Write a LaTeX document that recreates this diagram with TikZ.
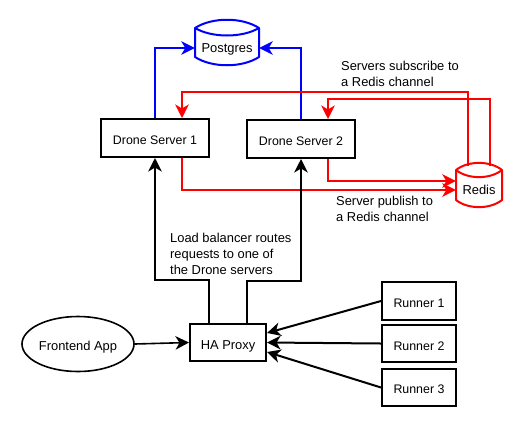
\documentclass[tikz,border=0pt]{standalone}
\usepackage{fontspec}
\setmainfont{Liberation Sans}
\usetikzlibrary{arrows.meta,shapes.geometric,calc}
\definecolor{rd}{RGB}{255,0,0}
\definecolor{bl}{RGB}{0,0,255}
\newcommand{\lowered}[2]{\raisebox{-#1}[0pt][0pt]{#2}}
\tikzset{
  txt/.style={font=\fontsize{12.9}{15.8}\selectfont,inner sep=0pt},
  boxn/.style={draw=black,line width=2pt,minimum width=#1,inner sep=0pt,font=\fontsize{12.4}{15}\selectfont},
  boxn/.default=74,
  label/.style={txt,anchor=west,align=left},
  dbshape/.style={line width=2pt,fill=white,line join=round},
  dbtext/.style={txt,inner sep=0pt},
  conn/.style={line width=2pt,-{Stealth[length=13.5pt,width=13.5pt,inset=4pt]},line join=miter},
  thinconn/.style={conn,line width=1.6pt},
}
\begin{document}
\begin{tikzpicture}[x=1pt,y=-1pt]
\useasboundingbox (0,0) rectangle (521,429);
% boxes
\node[boxn=108,minimum height=38] (d1) at (155,138) {\lowered{6pt}{Drone Server 1}};
\node[boxn=108,minimum height=38] (d2) at (301,139) {\lowered{6.3pt}{Drone Server 2}};
\node[boxn=76,minimum height=37,font=\fontsize{12.9}{15}\selectfont] (ha) at (228,342.5) {\lowered{6.8pt}{HA Proxy}};
\node[boxn=74,minimum height=38] (r1) at (419,301) {\lowered{6pt}{Runner 1}};
\node[boxn=74,minimum height=37] (r2) at (419,343.5) {\lowered{6.5pt}{Runner 2}};
\node[boxn=74,minimum height=37] (r3) at (419,387.5) {\lowered{6.2pt}{Runner 3}};
\node[draw=black,line width=1.6pt,ellipse,minimum width=112,minimum height=55,inner sep=0pt,font=\fontsize{12.9}{15}\selectfont] (fe) at (78,344) {\lowered{6pt}{Frontend App}};
% Postgres
\draw[dbshape,draw=bl] (195,28) .. controls (212,17) and (242,17) .. (259,28) -- (259,57) .. controls (242,68) and (212,68) .. (195,57) -- cycle;
\draw[dbshape,draw=bl] (195,28) .. controls (212,38) and (242,38) .. (259,28);
\node[dbtext,minimum width=64] (pg) at (227,48) {\lowered{4.3pt}{Postgres}};
% Redis
\draw[dbshape,draw=rd] (456,170) .. controls (468,160.5) and (490,160.5) .. (502,170) -- (502,200) .. controls (490,209.5) and (468,209.5) .. (456,200) -- cycle;
\draw[dbshape,draw=rd] (456,170) .. controls (468,179.5) and (490,179.5) .. (502,170);
\node[dbtext,minimum width=46] (rs) at (479,190) {\lowered{4.7pt}{Redis}};
\coordinate (rs1) at (468,166);
\coordinate (rs2) at (490,165.5);
% blue
\draw[conn,draw=bl,color=bl] (d1.north) |- (pg.west);
\draw[conn,draw=bl,color=bl] (d2.north) |- (pg.east);
% red
\draw[conn,draw=rd,color=rd] (rs1) -- ++(0,-74) -| ([xshift=27]d1.north);
\draw[conn,draw=rd,color=rd] (rs2) -- ++(0,-66.5) -| ([xshift=27]d2.north);
\draw[conn,draw=rd,color=rd] ([xshift=27]d1.south) |- (rs.west);
\draw[conn,draw=rd,color=rd] ([xshift=27]d2.south) |- ([yshift=9]rs.west);
% black
\draw[conn] ([xshift=-19]ha.north) -- ++(0,-43) -| (d1.south);
\draw[conn] ([xshift=19]ha.north) -- ++(0,-42) -| (d2.south);
\draw[thinconn] (fe.east) -- (ha.west);
\draw[conn] (r1.west) -- ([yshift=9.5]ha.east);
\draw[conn] (r2.west) -- (ha.east);
\draw[conn] (r3.west) -- ([yshift=-9.5]ha.east);
% labels
\node[label] (l1) at (341,74) {Servers subscribe to\\a Redis channel};
\node[label] (l2) at (336,209) {Server publish to\\a Redis channel};
\node[label] (l3) at (170,254) {Load balancer routes\\requests to one of\\the Drone servers};
\end{tikzpicture}
\end{document}
